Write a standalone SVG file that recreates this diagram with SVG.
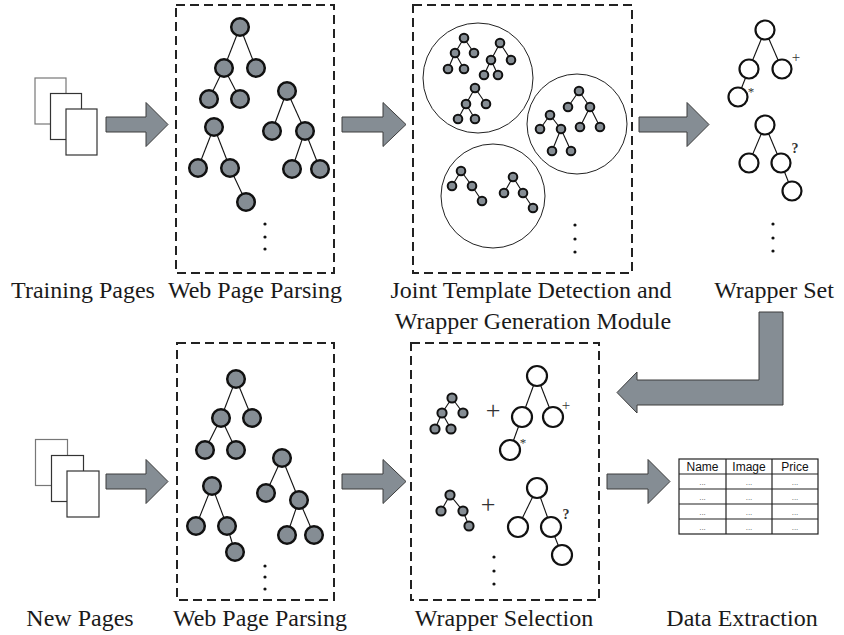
<svg xmlns="http://www.w3.org/2000/svg" width="844" height="635" viewBox="0 0 844 635">
<defs>
<style>
.lbl{font-family:"Liberation Serif","Times New Roman",serif;font-size:24px;fill:#1a1a1a;text-anchor:middle}
.box{fill:none;stroke:#222;stroke-width:2;stroke-dasharray:9 5}
.arr{fill:#858d94;stroke:#3c3c3c;stroke-width:1}
.page{fill:#fff;stroke:#333;stroke-width:1.2}
.pageb{fill:#fff;stroke:#777;stroke-width:1.2}
.e{stroke:#111;stroke-width:1.1}
.g{fill:#858d94;stroke:#111;stroke-width:2.5}
.gs{fill:#858d94;stroke:#111;stroke-width:2}
.w{fill:#fff;stroke:#111;stroke-width:2.2}
.dot{fill:#111}
.grp{fill:none;stroke:#222;stroke-width:1}
.mk{font-family:"Liberation Serif","Times New Roman",serif;fill:#333;text-anchor:middle}
.th{font-family:"Liberation Sans",Arial,sans-serif;font-size:12px;fill:#111;text-anchor:middle}
.td{font-family:"Liberation Sans",Arial,sans-serif;font-size:8px;fill:#555;text-anchor:middle}
</style>
</defs>
<rect width="844" height="635" fill="#fff"/>

<g id="connectors">
<polygon class="arr" points="106,117 146,117 146,102.5 168,124.5 146,146.5 146,132 106,132"/>
<polygon class="arr" points="342,117 383,117 383,102.5 406,124.5 383,146.5 383,132 342,132"/>
<polygon class="arr" points="639,117 687,117 687,102.5 709,124.5 687,146.5 687,132 639,132"/>
<polygon class="arr" points="106,474 146,474 146,459.5 168,481.5 146,503.5 146,489 106,489"/>
<polygon class="arr" points="342,474 383,474 383,459.5 406,481.5 383,503.5 383,489 342,489"/>
<polygon class="arr" points="607,474 648,474 648,459.5 670,481.5 648,503.5 648,489 607,489"/>
<polygon class="arr" points="759,312 783,312 783,405 637,405 637,413 617,392.5 637,372 637,380 759,380"/>
</g>

<g id="training-pages">
<rect class="pageb" x="35" y="78" width="31" height="46"/>
<rect class="page" x="50.5" y="93.5" width="31" height="46"/>
<rect class="page" x="66" y="109" width="31" height="46"/>
<text class="lbl" x="83" y="298">Training Pages</text>
</g>

<g id="web-parsing-top">
<rect class="box" x="176" y="5" width="158" height="268"/>
<g class="e">
<line x1="240" y1="27" x2="224" y2="68"/><line x1="240" y1="27" x2="256" y2="68"/>
<line x1="224" y1="68" x2="209" y2="99"/><line x1="224" y1="68" x2="240" y2="99"/>
<line x1="287" y1="91" x2="272" y2="131"/><line x1="287" y1="91" x2="305" y2="131"/>
<line x1="305" y1="131" x2="292" y2="169"/><line x1="305" y1="131" x2="320" y2="169"/>
<line x1="214" y1="127" x2="198" y2="168"/><line x1="214" y1="127" x2="230" y2="168"/>
<line x1="230" y1="168" x2="246" y2="202"/>
</g>
<g class="g">
<circle cx="240" cy="27" r="8.8"/><circle cx="224" cy="68" r="8.8"/><circle cx="256" cy="68" r="8.8"/>
<circle cx="209" cy="99" r="8.8"/><circle cx="240" cy="99" r="8.8"/>
<circle cx="287" cy="91" r="8.8"/><circle cx="272" cy="131" r="8.8"/><circle cx="305" cy="131" r="8.8"/>
<circle cx="292" cy="169" r="8.8"/><circle cx="320" cy="169" r="8.8"/>
<circle cx="214" cy="127" r="8.8"/><circle cx="198" cy="168" r="8.8"/><circle cx="230" cy="168" r="8.8"/>
<circle cx="246" cy="202" r="8.8"/>
</g>
<circle class="dot" cx="265" cy="224" r="1.6"/><circle class="dot" cx="265" cy="237" r="1.6"/><circle class="dot" cx="265" cy="249" r="1.6"/>
<text class="lbl" x="255" y="298">Web Page Parsing</text>
</g>

<g id="joint-template">
<rect class="box" x="413" y="5" width="219" height="268"/>
<circle class="grp" cx="478" cy="78" r="55"/>
<circle class="grp" cx="577" cy="124" r="50"/>
<circle class="grp" cx="493" cy="196" r="52"/>
<g class="e">
<line x1="464" y1="38" x2="455" y2="53"/><line x1="464" y1="38" x2="474" y2="53"/>
<line x1="455" y1="53" x2="448" y2="69"/><line x1="455" y1="53" x2="464" y2="69"/>
<line x1="500" y1="43" x2="491" y2="60"/><line x1="500" y1="43" x2="511" y2="60"/>
<line x1="491" y1="60" x2="484" y2="75"/><line x1="491" y1="60" x2="498" y2="75"/>
<line x1="475" y1="88" x2="466" y2="104"/><line x1="475" y1="88" x2="486" y2="104"/>
<line x1="466" y1="104" x2="458" y2="119"/><line x1="466" y1="104" x2="475" y2="119"/>
<line x1="579" y1="91" x2="568" y2="107"/><line x1="579" y1="91" x2="590" y2="107"/>
<line x1="590" y1="107" x2="580" y2="127"/><line x1="590" y1="107" x2="600" y2="127"/>
<line x1="550" y1="115" x2="540" y2="129"/><line x1="550" y1="115" x2="561" y2="129"/>
<line x1="561" y1="129" x2="552" y2="151"/><line x1="561" y1="129" x2="571" y2="151"/>
<line x1="461" y1="171" x2="452" y2="186"/><line x1="461" y1="171" x2="472" y2="186"/>
<line x1="472" y1="186" x2="482" y2="201"/>
<line x1="513" y1="177" x2="504" y2="193"/><line x1="513" y1="177" x2="523" y2="193"/>
<line x1="523" y1="193" x2="533" y2="208"/>
</g>
<g class="gs">
<circle cx="464" cy="38" r="4.3"/><circle cx="455" cy="53" r="4.3"/><circle cx="474" cy="53" r="4.3"/>
<circle cx="448" cy="69" r="4.3"/><circle cx="464" cy="69" r="4.3"/>
<circle cx="500" cy="43" r="4.3"/><circle cx="491" cy="60" r="4.3"/><circle cx="511" cy="60" r="4.3"/>
<circle cx="484" cy="75" r="4.3"/><circle cx="498" cy="75" r="4.3"/>
<circle cx="475" cy="88" r="4.3"/><circle cx="466" cy="104" r="4.3"/><circle cx="486" cy="104" r="4.3"/>
<circle cx="458" cy="119" r="4.3"/><circle cx="475" cy="119" r="4.3"/>
<circle cx="579" cy="91" r="4.3"/><circle cx="568" cy="107" r="4.3"/><circle cx="590" cy="107" r="4.3"/>
<circle cx="580" cy="127" r="4.3"/><circle cx="600" cy="127" r="4.3"/>
<circle cx="550" cy="115" r="4.3"/><circle cx="540" cy="129" r="4.3"/><circle cx="561" cy="129" r="4.3"/>
<circle cx="552" cy="151" r="4.3"/><circle cx="571" cy="151" r="4.3"/>
<circle cx="461" cy="171" r="4.3"/><circle cx="452" cy="186" r="4.3"/><circle cx="472" cy="186" r="4.3"/>
<circle cx="482" cy="201" r="4.3"/>
<circle cx="513" cy="177" r="4.3"/><circle cx="504" cy="193" r="4.3"/><circle cx="523" cy="193" r="4.3"/>
<circle cx="533" cy="208" r="4.3"/>
</g>
<circle class="dot" cx="575" cy="225" r="1.6"/><circle class="dot" cx="575" cy="239" r="1.6"/><circle class="dot" cx="575" cy="252" r="1.6"/>
<text class="lbl" x="531" y="298">Joint Template Detection and</text>
<text class="lbl" x="533" y="329">Wrapper Generation Module</text>
</g>

<g id="wrapper-set">
<g class="e">
<line x1="765" y1="30" x2="749" y2="69"/><line x1="765" y1="30" x2="782" y2="69"/>
<line x1="749" y1="69" x2="738" y2="97"/>
<line x1="765" y1="125" x2="749" y2="163"/><line x1="765" y1="125" x2="781" y2="163"/>
<line x1="781" y1="163" x2="792" y2="191"/>
</g>
<g class="w">
<circle cx="765" cy="30" r="9.5"/><circle cx="749" cy="69" r="9.5"/><circle cx="782" cy="69" r="9.5"/>
<circle cx="738" cy="97" r="9.5"/>
<circle cx="765" cy="125" r="9.5"/><circle cx="749" cy="163" r="9.5"/><circle cx="781" cy="163" r="9.5"/>
<circle cx="792" cy="191" r="9.5"/>
</g>
<text class="mk" x="796" y="62" font-size="15">+</text>
<text class="mk" x="751" y="96" font-size="13">*</text>
<text class="mk" x="795" y="153" font-size="14" font-weight="bold">?</text>
<circle class="dot" cx="773" cy="224" r="1.6"/><circle class="dot" cx="773" cy="238" r="1.6"/><circle class="dot" cx="773" cy="251" r="1.6"/>
<text class="lbl" x="774" y="298">Wrapper Set</text>
</g>

<g id="new-pages">
<rect class="pageb" x="35.5" y="439.5" width="32" height="46"/>
<rect class="page" x="51.5" y="455.5" width="32" height="46"/>
<rect class="page" x="67" y="471" width="32" height="46"/>
<text class="lbl" x="80" y="626">New Pages</text>
</g>

<g id="web-parsing-bottom">
<rect class="box" x="177" y="343" width="157" height="257"/>
<g class="e">
<line x1="236" y1="379" x2="221" y2="418"/><line x1="236" y1="379" x2="252" y2="418"/>
<line x1="221" y1="418" x2="205" y2="450"/><line x1="221" y1="418" x2="236" y2="450"/>
<line x1="282" y1="458" x2="266" y2="493"/><line x1="282" y1="458" x2="299" y2="500"/>
<line x1="299" y1="500" x2="287" y2="535"/><line x1="299" y1="500" x2="314" y2="535"/>
<line x1="212" y1="486" x2="196" y2="526"/><line x1="212" y1="486" x2="227" y2="526"/>
<line x1="227" y1="526" x2="235" y2="552"/>
</g>
<g class="g">
<circle cx="236" cy="379" r="8.8"/><circle cx="221" cy="418" r="8.8"/><circle cx="252" cy="418" r="8.8"/>
<circle cx="205" cy="450" r="8.8"/><circle cx="236" cy="450" r="8.8"/>
<circle cx="282" cy="458" r="8.8"/><circle cx="266" cy="493" r="8.8"/><circle cx="299" cy="500" r="8.8"/>
<circle cx="287" cy="535" r="8.8"/><circle cx="314" cy="535" r="8.8"/>
<circle cx="212" cy="486" r="8.8"/><circle cx="196" cy="526" r="8.8"/><circle cx="227" cy="526" r="8.8"/>
<circle cx="235" cy="552" r="8.8"/>
</g>
<circle class="dot" cx="265" cy="566" r="1.6"/><circle class="dot" cx="265" cy="577" r="1.6"/><circle class="dot" cx="265" cy="589" r="1.6"/>
<text class="lbl" x="260" y="626">Web Page Parsing</text>
</g>

<g id="wrapper-selection">
<rect class="box" x="411" y="343" width="188" height="257"/>
<g class="e">
<line x1="452" y1="398" x2="442" y2="413"/><line x1="452" y1="398" x2="463" y2="413"/>
<line x1="442" y1="413" x2="435" y2="429"/><line x1="442" y1="413" x2="451" y2="429"/>
<line x1="450" y1="495" x2="441" y2="511"/><line x1="450" y1="495" x2="463" y2="511"/>
<line x1="463" y1="511" x2="469" y2="526"/>
<line x1="537" y1="376" x2="522" y2="417"/><line x1="537" y1="376" x2="553" y2="417"/>
<line x1="522" y1="417" x2="510" y2="450"/>
<line x1="537" y1="488" x2="518" y2="527"/><line x1="537" y1="488" x2="551" y2="527"/>
<line x1="551" y1="527" x2="562" y2="555"/>
</g>
<g class="gs">
<circle cx="452" cy="398" r="4.6"/><circle cx="442" cy="413" r="4.6"/><circle cx="463" cy="413" r="4.6"/>
<circle cx="435" cy="429" r="4.6"/><circle cx="451" cy="429" r="4.6"/>
<circle cx="450" cy="495" r="4.6"/><circle cx="441" cy="511" r="4.6"/><circle cx="463" cy="511" r="4.6"/>
<circle cx="469" cy="526" r="4.6"/>
</g>
<g class="w">
<circle cx="537" cy="376" r="10"/><circle cx="522" cy="417" r="10"/><circle cx="553" cy="417" r="10"/>
<circle cx="510" cy="450" r="10"/>
<circle cx="537" cy="488" r="10"/><circle cx="518" cy="527" r="10"/><circle cx="551" cy="527" r="10"/>
<circle cx="562" cy="555" r="10"/>
</g>
<text class="mk" x="493" y="419" font-size="26" fill="#444">+</text>
<text class="mk" x="488" y="513" font-size="26" fill="#444">+</text>
<text class="mk" x="566" y="410" font-size="15">+</text>
<text class="mk" x="523" y="447" font-size="13">*</text>
<text class="mk" x="566" y="519" font-size="14" font-weight="bold">?</text>
<circle class="dot" cx="494" cy="557" r="1.6"/><circle class="dot" cx="494" cy="571" r="1.6"/><circle class="dot" cx="494" cy="584" r="1.6"/>
<text class="lbl" x="504" y="626">Wrapper Selection</text>
</g>

<g id="data-extraction">
<rect x="679" y="459" width="139" height="75" fill="#fff" stroke="#222" stroke-width="1.2"/>
<g stroke="#222" stroke-width="1.2">
<line x1="726" y1="459" x2="726" y2="534"/><line x1="772" y1="459" x2="772" y2="534"/>
<line x1="679" y1="474" x2="818" y2="474"/><line x1="679" y1="489" x2="818" y2="489"/>
<line x1="679" y1="504" x2="818" y2="504"/><line x1="679" y1="519" x2="818" y2="519"/>
</g>
<text class="th" x="702.5" y="471">Name</text>
<text class="th" x="749" y="471">Image</text>
<text class="th" x="795" y="471">Price</text>
<text class="td" x="702.5" y="485">...</text><text class="td" x="749" y="485">...</text><text class="td" x="795" y="485">...</text>
<text class="td" x="702.5" y="500">...</text><text class="td" x="749" y="500">...</text><text class="td" x="795" y="500">...</text>
<text class="td" x="702.5" y="515">...</text><text class="td" x="749" y="515">...</text><text class="td" x="795" y="515">...</text>
<text class="td" x="702.5" y="530">...</text><text class="td" x="749" y="530">...</text><text class="td" x="795" y="530">...</text>
<text class="lbl" x="742" y="626">Data Extraction</text>
</g>
</svg>
